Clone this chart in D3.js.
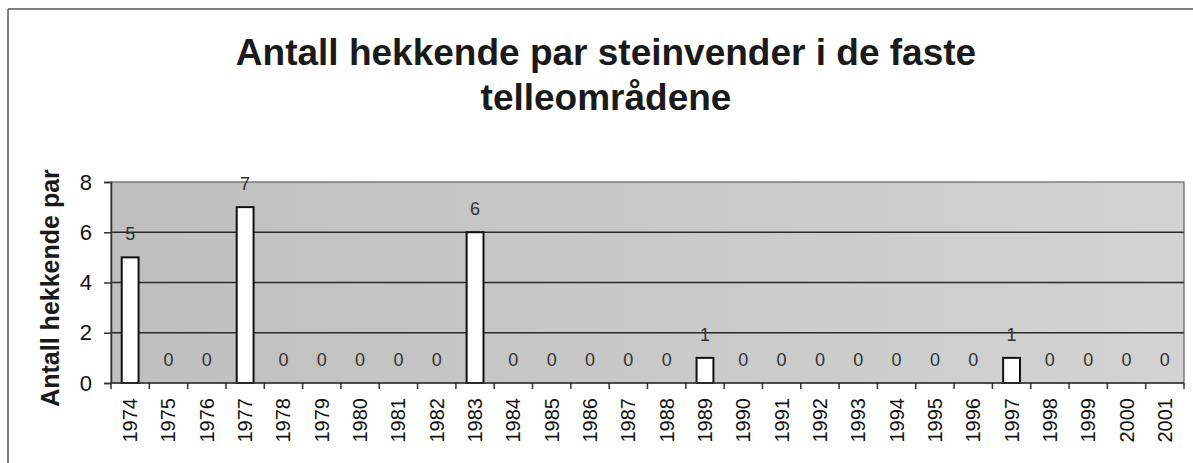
<!DOCTYPE html>
<html>
<head>
<meta charset="utf-8">
<script src="https://cdn.jsdelivr.net/npm/d3@7"></script>
<style>
  body { margin: 0; background: #fff; }
  svg { display: block; font-family: "Liberation Sans", Arial, sans-serif; }
</style>
</head>
<body>
<svg id="chart" width="1193" height="463"></svg>
<script>
const years = d3.range(1974, 2002).map(String);
const pairs = [5, 0, 0, 7, 0, 0, 0, 0, 0, 6, 0, 0, 0, 0, 0, 1, 0, 0, 0, 0, 0, 0, 0, 1, 0, 0, 0, 0];
const yTicks = [0, 2, 4, 6, 8];
const titleLines = ["Antall hekkende par steinvender i de faste", "telleområdene"];
const yLabel = "Antall hekkende par";

const svg = d3.select("#chart");
const margin = { top: 182, right: 9, bottom: 80, left: 111 };
const width = 1193 - margin.left - margin.right;
const height = 463 - margin.top - margin.bottom;

// outer chart frame (only top and left visible in the scan)
svg.append("line").attr("x1", 8).attr("x2", 1193).attr("y1", 9).attr("y2", 9)
    .attr("stroke", "#555").attr("stroke-width", 1.5);
svg.append("line").attr("x1", 8).attr("x2", 8).attr("y1", 9).attr("y2", 463)
    .attr("stroke", "#555").attr("stroke-width", 1.5);

const defs = svg.append("defs");
const grad = defs.append("linearGradient").attr("id", "bg").attr("x1", 0).attr("x2", 1).attr("y1", 0).attr("y2", 0);
grad.append("stop").attr("offset", "0%").attr("stop-color", "#bfbfbf");
grad.append("stop").attr("offset", "100%").attr("stop-color", "#d3d3d3");

svg.selectAll(".title")
    .data(titleLines)
    .join("text")
    .attr("class", "title")
    .attr("x", 606)
    .attr("y", (d, i) => 65 + i * 45)
    .attr("text-anchor", "middle")
    .attr("font-size", 37)
    .attr("font-weight", "bold")
    .attr("fill", "#1a1a1a")
    .text(d => d);

const g = svg.append("g").attr("transform", `translate(${margin.left},${margin.top})`);

const x = d3.scaleBand().domain(years).range([0, width]).paddingInner(0.56).paddingOuter(0.28);
const y = d3.scaleLinear().domain([0, 8]).range([height, 0]);

g.append("rect")
    .attr("width", width)
    .attr("height", height)
    .attr("fill", "url(#bg)")
    .attr("stroke", "#444")
    .attr("stroke-width", 1);

g.selectAll(".grid")
    .data(yTicks.filter(d => d > 0 && d < 8))
    .join("line")
    .attr("x1", 0).attr("x2", width)
    .attr("y1", d => y(d)).attr("y2", d => y(d))
    .attr("stroke", "#2a2a2a")
    .attr("stroke-width", 1.4);

g.selectAll(".bar")
    .data(pairs)
    .join("rect")
    .attr("x", (d, i) => x(years[i]))
    .attr("y", d => y(d))
    .attr("width", x.bandwidth())
    .attr("height", d => height - y(d))
    .attr("fill", "#fff")
    .attr("stroke", "#111")
    .attr("stroke-width", 2);

g.selectAll(".val")
    .data(pairs)
    .join("text")
    .attr("x", (d, i) => x(years[i]) + x.bandwidth() / 2)
    .attr("y", d => y(d) - 17)
    .attr("text-anchor", "middle")
    .attr("font-size", 18)
    .attr("fill", "#333")
    .text(d => d);

// y axis
const yAxis = g.append("g").call(d3.axisLeft(y).tickValues(yTicks).tickSize(7).tickPadding(12));
yAxis.select(".domain").attr("stroke", "#333").attr("stroke-width", 1.5);
yAxis.selectAll(".tick line").attr("stroke", "#333").attr("stroke-width", 1.5);
yAxis.selectAll(".tick text").attr("font-size", 22).attr("fill", "#111").attr("font-family", "Liberation Sans, Arial, sans-serif");

// x axis: ticks between categories
const xAxis = g.append("g").attr("transform", `translate(0,${height})`);
xAxis.append("line").attr("x1", 0).attr("x2", width).attr("stroke", "#333").attr("stroke-width", 1.5);
xAxis.selectAll(".xt")
    .data(d3.range(years.length + 1))
    .join("line")
    .attr("x1", i => i * x.step()).attr("x2", i => i * x.step())
    .attr("y1", 0).attr("y2", 6)
    .attr("stroke", "#333").attr("stroke-width", 1.5);
xAxis.selectAll(".xl")
    .data(years)
    .join("text")
    .attr("transform", d => `translate(${x(d) + x.bandwidth() / 2 + 7},${15}) rotate(-90)`)
    .attr("text-anchor", "end")
    .attr("font-size", 20)
    .attr("fill", "#111")
    .text(d => d);

svg.append("text")
    .attr("transform", `translate(${59},${288}) rotate(-90)`)
    .attr("text-anchor", "middle")
    .attr("font-size", 25)
    .attr("font-weight", "bold")
    .attr("fill", "#1a1a1a")
    .text(yLabel);
</script>
</body>
</html>
